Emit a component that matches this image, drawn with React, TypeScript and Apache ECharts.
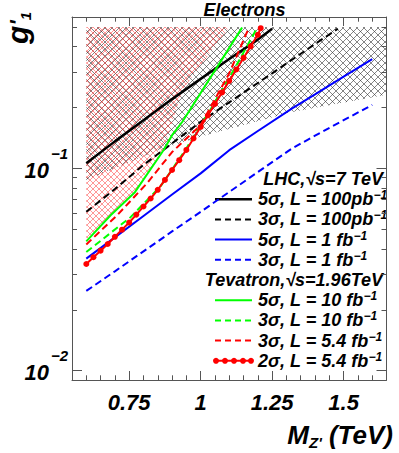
import React, { useEffect, useRef } from "react";
import * as echarts from "echarts";

const FONT = "'Liberation Sans', Arial, Helvetica, sans-serif";
const AXIS_COLOR = "#555";

// ---------- axes ----------
const xRange = [0.55, 1.65];
const yRange = [0.009, 0.56];
const xMajorTicks = [0.75, 1.0, 1.25, 1.5];
const xTickLabels = ["0.75", "1", "1.25", "1.5"];
const xMinorTicks = [0.6, 0.65, 0.7, 0.8, 0.85, 0.9, 0.95, 1.05, 1.1, 1.15, 1.2, 1.3, 1.35, 1.4, 1.45, 1.55, 1.6];
const yMajorTicks = [0.01, 0.1];
const yTickExponents = ["\u22122", "\u22121"];
const yMinorTicks = [0.02, 0.03, 0.04, 0.05, 0.06, 0.07, 0.08, 0.09, 0.2, 0.3, 0.4, 0.5];

// ---------- curves: [M_Z' (TeV), g'_1] ----------
const lhc5sigma100pb = [[0.6, 0.106], [0.7, 0.136], [0.8, 0.173], [0.9, 0.22], [1.0, 0.277], [1.1, 0.347], [1.2, 0.433], [1.25, 0.49]];
const lhc3sigma100pb = [[0.6, 0.061], [0.7, 0.079], [0.8, 0.104], [0.9, 0.133], [1.0, 0.17], [1.1, 0.212], [1.25, 0.295], [1.4, 0.412], [1.48, 0.49]];
const lhc5sigma1fb = [[0.6, 0.0358], [0.7, 0.0456], [0.8, 0.0582], [0.9, 0.0743], [1.0, 0.0945], [1.1, 0.123], [1.2, 0.153], [1.32, 0.198], [1.4, 0.232], [1.5, 0.284], [1.6, 0.347]];
const lhc3sigma1fb = [[0.6, 0.0248], [0.7, 0.031], [0.8, 0.0389], [0.9, 0.0488], [1.0, 0.061], [1.1, 0.0765], [1.2, 0.0959], [1.32, 0.1256], [1.4, 0.145], [1.5, 0.173], [1.6, 0.206]];
const tev5sigma10fb = [[0.6, 0.0436], [0.685, 0.0587], [0.77, 0.0763], [0.87, 0.123], [0.9, 0.146], [0.936, 0.17], [1.0, 0.236], [1.1, 0.394], [1.145, 0.497]];
const tev3sigma10fb = [[0.6, 0.0386], [0.755, 0.0574], [0.86, 0.0817], [0.946, 0.123], [1.033, 0.194], [1.12, 0.314], [1.197, 0.493]];
const tev3sigma54fb = [[0.6, 0.0421], [0.708, 0.0587], [0.813, 0.0846], [0.9, 0.1204], [1.0, 0.1637], [1.1, 0.295], [1.169, 0.497]];
const tev2sigma54fbMass = [0.6, 0.625, 0.65, 0.675, 0.7, 0.725, 0.75, 0.775, 0.8, 0.825, 0.85, 0.875, 0.9, 0.925, 0.95, 0.975, 1.0, 1.025, 1.05, 1.075, 1.1, 1.125, 1.15, 1.175, 1.2, 1.21];
const tev2sigma54fbG = [0.0337, 0.0364, 0.0392, 0.0423, 0.0459, 0.0498, 0.054, 0.0591, 0.0648, 0.071, 0.0784, 0.0877, 0.0982, 0.1098, 0.1234, 0.1406, 0.1603, 0.1826, 0.2084, 0.2375, 0.2708, 0.3084, 0.3516, 0.4013, 0.4574, 0.4932];

// ---------- hatched regions ----------
const lhcHatchRegion = [[0.6, 0.5], [1.65, 0.5], [1.65, 0.231], [1.32, 0.19], [0.995, 0.143], [0.85, 0.123], [0.6, 0.0875]];
const tevHatchRegion = [[0.6, 0.5], [1.1, 0.5], [0.936, 0.244], [0.87, 0.123], [0.77, 0.0763], [0.685, 0.0587], [0.6, 0.0436]];

// ---------- legend ----------
const legendRows = [
  { header: "LHC,\u221As=7 TeV" },
  { main: "5\u03C3, L = 100pb", color: "#000000", dash: "solid", width: 2.5 },
  { main: "3\u03C3, L = 100pb", color: "#000000", dash: "dashed", width: 2 },
  { main: "5\u03C3, L = 1 fb", color: "#0000ff", dash: "solid", width: 2 },
  { main: "3\u03C3, L = 1 fb", color: "#0000ff", dash: "dashed", width: 2 },
  { header: "Tevatron,\u221As=1.96TeV" },
  { main: "5\u03C3, L = 10 fb", color: "#00ff00", dash: "solid", width: 2 },
  { main: "3\u03C3, L = 10 fb", color: "#00ff00", dash: "dashed", width: 2 },
  { main: "3\u03C3, L = 5.4 fb", color: "#ff0000", dash: "dashed", width: 2 },
  { main: "2\u03C3, L = 5.4 fb", color: "#ff0000", dash: "dotted", width: 2 },
];

const DASH = [7, 4];

function makePattern(size: number, color: string, width: number) {
  const s = size;
  const svg = `<svg xmlns='http://www.w3.org/2000/svg' width='${s}' height='${s}'><path d='M-1,-1L${s + 1},${s + 1}M${s + 1},-1L-1,${s + 1}' stroke='${color}' stroke-width='${width}' fill='none'/></svg>`;
  return {
    image: "data:image/svg+xml;charset=utf-8," + encodeURIComponent(svg),
    repeat: "repeat",
    imageWidth: s,
    imageHeight: s,
  };
}

function xAxisDef(position: string, ticks: number[], len: number, labels: boolean, line: boolean) {
  return {
    type: "value",
    position,
    min: xRange[0],
    max: xRange[1],
    axisLine: { show: line, onZero: false, lineStyle: { color: AXIS_COLOR, width: 1 } },
    axisTick: { show: true, inside: true, length: len, customValues: ticks, lineStyle: { color: AXIS_COLOR, width: 1 } },
    axisLabel: labels
      ? {
          show: true,
          customValues: ticks,
          margin: 11,
          color: "#000",
          fontSize: 22,
          fontWeight: "bold",
          fontStyle: "italic",
          fontFamily: FONT,
          formatter: (v: number) => {
            const i = xMajorTicks.findIndex((t) => Math.abs(t - v) < 1e-6);
            return i >= 0 ? xTickLabels[i] : "";
          },
        }
      : { show: false },
    splitLine: { show: false },
  };
}

function yAxisDef(position: string, ticks: number[], len: number, labels: boolean, line: boolean) {
  return {
    type: "log",
    logBase: 10,
    position,
    min: yRange[0],
    max: yRange[1],
    axisLine: { show: line, onZero: false, lineStyle: { color: AXIS_COLOR, width: 1 } },
    axisTick: { show: true, inside: true, length: len, customValues: ticks, lineStyle: { color: AXIS_COLOR, width: 1 } },
    axisLabel: labels
      ? {
          show: true,
          customValues: ticks,
          margin: 4,
          formatter: (v: number) => {
            const i = yMajorTicks.findIndex((t) => Math.abs(t - v) / t < 1e-6);
            return i >= 0 ? `{s|${yTickExponents[i]}}\n{b|10}` : "";
          },
          rich: {
            s: { fontSize: 15, fontWeight: "bold", fontStyle: "italic", fontFamily: FONT, color: "#000", lineHeight: 4 },
            b: { fontSize: 22, fontWeight: "bold", fontStyle: "italic", fontFamily: FONT, color: "#000", lineHeight: 30, padding: [0, 19, 0, 0] },
          },
        }
      : { show: false },
    splitLine: { show: false },
    minorTick: { show: false },
  };
}

function hatchSeries(points: number[][], pattern: any, z: number) {
  return {
    type: "custom",
    coordinateSystem: "cartesian2d",
    xAxisIndex: 0,
    yAxisIndex: 0,
    silent: true,
    z,
    clip: true,
    data: [[1, 0.1]],
    renderItem: (_params: any, api: any) => ({
      type: "polygon",
      shape: { points: points.map((p) => api.coord(p)) },
      style: { fill: pattern, stroke: null },
    }),
  };
}

function lineSeries(name: string, data: number[][], color: string, dashed: boolean, width: number) {
  return {
    name,
    type: "line",
    xAxisIndex: 0,
    yAxisIndex: 0,
    data,
    symbol: "none",
    showSymbol: false,
    silent: true,
    z: 5,
    lineStyle: { color, width, type: dashed ? DASH : "solid" },
  };
}

function buildLegend() {
  const els: any[] = [];
  const y0 = 179;
  const dy = 20.2;
  const lx1 = 215;
  const lx2 = 252;
  const textStyle = { fontSize: 18, fontWeight: "bold", fontStyle: "italic", fontFamily: FONT, color: "#000" };
  legendRows.forEach((row: any, i: number) => {
    const y = y0 + i * dy;
    if (row.header) {
      els.push({
        type: "text",
        x: 383,
        y,
        style: {
          text: row.header,
          font: `italic bold 18px ${FONT}`,
          fill: "#000",
          textAlign: "right",
          textVerticalAlign: "middle",
        },
      });
      return;
    }
    els.push({
      type: "line",
      shape: { x1: lx1, y1: y, x2: lx2, y2: y },
      style: { stroke: row.color, lineWidth: row.width, lineDash: row.dash === "dashed" ? [6, 4] : null },
    });
    if (row.dash === "dotted") {
      [216, 225, 234, 243, 251].forEach((cx) => {
        els.push({ type: "circle", shape: { cx, cy: y, r: 3 }, style: { fill: row.color } });
      });
    }
    els.push({
      type: "text",
      x: 258,
      y,
      style: {
        text: `{m|${row.main}}{s|\u22121}`,
        textAlign: "left",
        textVerticalAlign: "middle",
        rich: {
          m: { ...textStyle, lineHeight: 20 },
          s: { ...textStyle, fontSize: 12, lineHeight: 8, verticalAlign: "top" },
        },
      },
    });
  });
  return els;
}

export default function App() {
  const ref = useRef<HTMLDivElement>(null);
  useEffect(() => {
    document.body.style.margin = "0";
    if (!ref.current) return;
    const chart = echarts.init(ref.current, null, { renderer: "svg" });
    const option: any = {
      animation: false,
      backgroundColor: "#ffffff",
      grid: { left: 72, right: 12.5, top: 17, bottom: 73 },
      xAxis: [
        xAxisDef("bottom", xMajorTicks, 9, true, true),
        xAxisDef("bottom", xMinorTicks, 4.7, false, false),
        xAxisDef("top", xMajorTicks, 9, false, true),
        xAxisDef("top", xMinorTicks, 4.7, false, false),
      ],
      yAxis: [
        yAxisDef("left", yMajorTicks, 10, true, true),
        yAxisDef("left", yMinorTicks, 5, false, false),
        yAxisDef("right", yMajorTicks, 10, false, true),
        yAxisDef("right", yMinorTicks, 5, false, false),
      ],
      series: [
        hatchSeries(lhcHatchRegion, makePattern(7, "#333333", 0.6), 1),
        hatchSeries(tevHatchRegion, makePattern(6, "#ff4040", 0.55), 2),
        lineSeries("LHC 5s 100pb", lhc5sigma100pb, "#000000", false, 2.5),
        lineSeries("LHC 3s 100pb", lhc3sigma100pb, "#000000", true, 2),
        lineSeries("LHC 5s 1fb", lhc5sigma1fb, "#0000ff", false, 2),
        lineSeries("LHC 3s 1fb", lhc3sigma1fb, "#0000ff", true, 2),
        lineSeries("Tev 5s 10fb", tev5sigma10fb, "#00ff00", false, 2),
        lineSeries("Tev 3s 10fb", tev3sigma10fb, "#00ff00", true, 2),
        lineSeries("Tev 3s 5.4fb", tev3sigma54fb, "#ff0000", true, 2),
        {
          name: "Tev 2s 5.4fb",
          type: "line",
          xAxisIndex: 0,
          yAxisIndex: 0,
          data: tev2sigma54fbMass.map((m, i) => [m, tev2sigma54fbG[i]]),
          symbol: "circle",
          symbolSize: 6,
          showSymbol: true,
          silent: true,
          z: 6,
          itemStyle: { color: "#ff0000" },
          lineStyle: { color: "#ff0000", width: 2 },
        },
      ],
      graphic: [
        {
          type: "text",
          x: 244.5,
          y: 10,
          style: { text: "Electrons", font: `italic bold 18px ${FONT}`, fill: "#000", textAlign: "center", textVerticalAlign: "middle" },
        },
        {
          type: "text",
          x: 393,
          y: 435,
          style: {
            text: "{m|M}{z|Z'}{m| (TeV)}",
            textAlign: "right",
            textVerticalAlign: "middle",
            rich: {
              m: { fontSize: 26, fontWeight: "bold", fontStyle: "italic", fontFamily: FONT, color: "#000", lineHeight: 30 },
              z: { fontSize: 15, fontWeight: "bold", fontStyle: "italic", fontFamily: FONT, color: "#000", lineHeight: 14, verticalAlign: "bottom" },
            },
          },
        },
        {
          type: "text",
          x: 17,
          y: 12,
          rotation: Math.PI / 2,
          style: {
            text: "{g|g}{p|'}{u|1}",
            textAlign: "right",
            textVerticalAlign: "middle",
            rich: {
              g: { fontSize: 30, fontWeight: "bold", fontStyle: "italic", fontFamily: FONT, color: "#000", lineHeight: 32 },
              p: { fontSize: 22, fontWeight: "bold", fontStyle: "italic", fontFamily: FONT, color: "#000", lineHeight: 32 },
              u: { fontSize: 15, fontWeight: "bold", fontStyle: "italic", fontFamily: FONT, color: "#000", lineHeight: 12, verticalAlign: "bottom" },
            },
          },
        },
        ...buildLegend(),
      ],
    };
    chart.setOption(option);
    return () => chart.dispose();
  }, []);
  return <div ref={ref} style={{ width: 399, height: 453 }} />;
}
